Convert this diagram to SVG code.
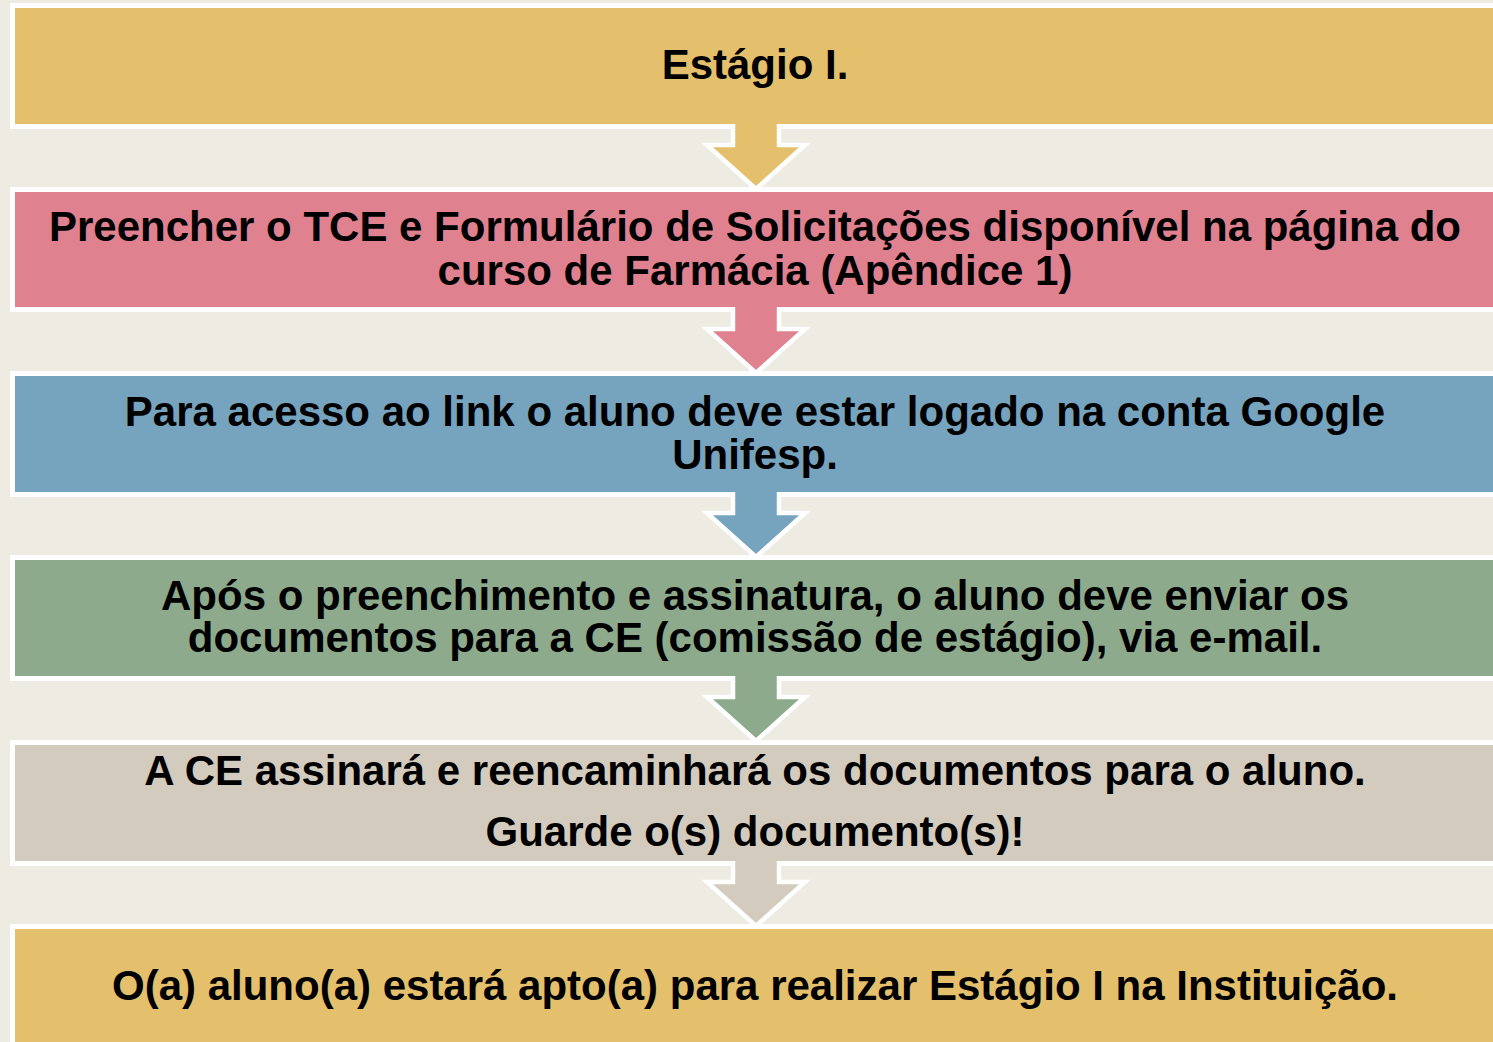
<svg xmlns="http://www.w3.org/2000/svg" width="1493" height="1042" viewBox="0 0 1493 1042">
<style>
.box{stroke:#FFFFFF;stroke-width:5}
.arr{stroke:#FFFFFF;stroke-width:4.5;stroke-linejoin:miter}
.t{font-family:"Liberation Sans",Arial,sans-serif;font-weight:bold;font-size:42px;fill:#000000;text-anchor:middle}
.c1{fill:#E4BF6C}
.c2{fill:#E0818F}
.c3{fill:#76A3BE}
.c4{fill:#8DAB8C}
.c5{fill:#D3CBBD}
</style>
<rect x="0" y="0" width="1493" height="1042" fill="#EEEBE3"/>
<g id="node1">
<rect class="box c1" x="12.5" y="5.5" width="1500" height="121"/>
<text class="t" x="755" y="79">Estágio I.</text>
</g>
<g id="node2">
<rect class="box c2" x="12.5" y="189.5" width="1500" height="120"/>
<text class="t" x="755" y="241">Preencher o TCE e Formulário de Solicitações disponível na página do</text>
<text class="t" x="755" y="284.5">curso de Farmácia (Apêndice 1)</text>
</g>
<g id="node3">
<rect class="box c3" x="12.5" y="373.5" width="1500" height="121"/>
<text class="t" x="755" y="425.5">Para acesso ao link o aluno deve estar logado na conta Google</text>
<text class="t" x="755" y="469">Unifesp.</text>
</g>
<g id="node4">
<rect class="box c4" x="12.5" y="557.5" width="1500" height="121"/>
<text class="t" x="755" y="609.5">Após o preenchimento e assinatura, o aluno deve enviar os</text>
<text class="t" x="755" y="652">documentos para a CE (comissão de estágio), via e-mail.</text>
</g>
<g id="node5">
<rect class="box c5" x="12.5" y="742.5" width="1500" height="121"/>
<text class="t" x="755" y="784.5">A CE assinará e reencaminhará os documentos para o aluno.</text>
<text class="t" x="755" y="846">Guarde o(s) documento(s)!</text>
</g>
<g id="node6">
<rect class="box c1" x="12.5" y="926.5" width="1500" height="140"/>
<text class="t" x="755" y="999.5">O(a) aluno(a) estará apto(a) para realizar Estágio I na Instituição.</text>
</g>
<g id="connectors">
<path class="arr c1" d="M733,124 L733,145 L707,145 L756,189 L805,145 L779,145 L779,124"/>
<path class="arr c2" d="M733,307 L733,329 L707,329 L756,373 L805,329 L779,329 L779,307"/>
<path class="arr c3" d="M733,492 L733,513 L707,513 L756,557 L805,513 L779,513 L779,492"/>
<path class="arr c4" d="M733,676 L733,697 L707,697 L756,741 L805,697 L779,697 L779,676"/>
<path class="arr c5" d="M733,861 L733,882 L707,882 L756,926 L805,882 L779,882 L779,861"/>
</g>
</svg>
